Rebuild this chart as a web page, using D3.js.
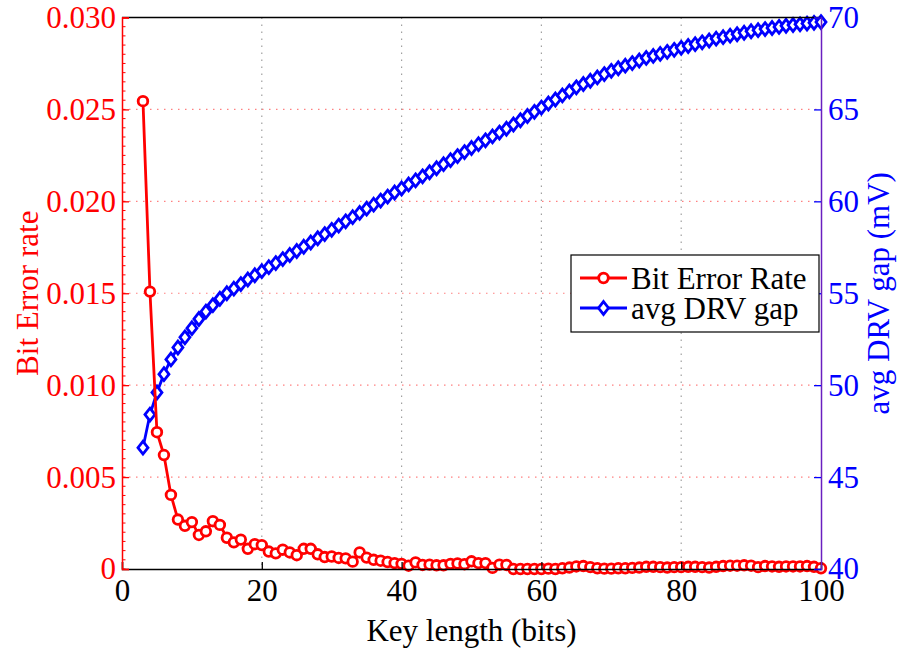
<!DOCTYPE html>
<html>
<head>
<meta charset="utf-8">
<script src="https://cdn.jsdelivr.net/npm/d3@7"></script>
<style>
	body { margin: 0; background: #fff; }
	svg text { font-family: "Liberation Serif", "Times New Roman", Times, "DejaVu Serif", serif; }
</style>
</head>
<body>
<script>
const keyLength = d3.range(3, 101);
const bitErrorRate = [
	0.02545, 0.01509, 0.00744, 0.00620, 0.00403, 0.00269, 0.00235, 0.00255, 0.00185, 0.00205,
	0.00260, 0.00240, 0.00170, 0.00145, 0.00160, 0.00110, 0.00135, 0.00130, 0.00095, 0.00085,
	0.00105, 0.00090, 0.00075, 0.00110, 0.00110, 0.00080, 0.00065, 0.00068, 0.00060, 0.00058,
	0.00040, 0.00090, 0.00062, 0.00050, 0.00045, 0.00038, 0.00032, 0.00028, 0.00018, 0.00036,
	0.00022, 0.00024, 0.00020, 0.00020, 0.00028, 0.00030, 0.00026, 0.00042, 0.00032, 0.00032,
	0.00006, 0.00024, 0.00022, 0.00000, 0.00000, 0.00000, 0.00000, 0.00000, 0.00002, 0.00000,
	0.00004, 0.00008, 0.00014, 0.00016, 0.00010, 0.00004, 0.00002, 0.00002, 0.00004, 0.00004,
	0.00006, 0.00008, 0.00012, 0.00012, 0.00010, 0.00008, 0.00010, 0.00010, 0.00012, 0.00012,
	0.00010, 0.00008, 0.00012, 0.00016, 0.00018, 0.00018, 0.00020, 0.00018, 0.00010, 0.00016,
	0.00014, 0.00012, 0.00014, 0.00014, 0.00014, 0.00016, 0.00012, 0.00004
];
const drvGap = [
	46.60, 48.40, 49.60, 50.60, 51.40, 52.05, 52.60, 53.10, 53.60, 54.00,
	54.35, 54.70, 55.00, 55.25, 55.50, 55.75, 55.98, 56.20, 56.42, 56.64,
	56.86, 57.08, 57.30, 57.53, 57.76, 57.99, 58.22, 58.45, 58.68, 58.91,
	59.14, 59.37, 59.60, 59.82, 60.04, 60.26, 60.48, 60.70, 60.92, 61.14,
	61.36, 61.58, 61.80, 62.02, 62.24, 62.46, 62.68, 62.90, 63.11, 63.32,
	63.53, 63.74, 63.95, 64.18, 64.41, 64.64, 64.87, 65.10, 65.32, 65.54,
	65.76, 65.98, 66.20, 66.38, 66.56, 66.74, 66.92, 67.10, 67.24, 67.38,
	67.52, 67.66, 67.80, 67.91, 68.02, 68.13, 68.24, 68.35, 68.45, 68.55,
	68.65, 68.75, 68.85, 68.93, 69.01, 69.09, 69.17, 69.25, 69.31, 69.37,
	69.43, 69.49, 69.55, 69.59, 69.63, 69.67, 69.71, 69.75
];
const xTicks = [0, 20, 40, 60, 80, 100];
const berTicks = [0, 0.005, 0.010, 0.015, 0.020, 0.025, 0.030];
const gapTicks = [40, 45, 50, 55, 60, 65, 70];
const seriesNames = ['Bit Error Rate', 'avg DRV gap'];

const FONT = '"Liberation Serif", "Times New Roman", Times, "DejaVu Serif", serif';

class DualAxisChart {
	constructor() {
		this._width = 898;
		this._height = 651;
		this._margins = {left: 122, right: 77, top: 17.5, bottom: 82};
		this._fontSize = 31;
		this._red = '#ff0000';
		this._blue = '#0000ff';
		this._scaleX = d3.scaleLinear().domain([0, 100]).range([0, this.quadrantWidth()]);
		this._scaleL = d3.scaleLinear().domain([0, 0.03]).range([this.quadrantHeight(), 0]);
		this._scaleR = d3.scaleLinear().domain([40, 70]).range([this.quadrantHeight(), 0]);
		this._svg = null;
		this._body = null;
	}
	render() {
		this._svg = d3.select('body')
			.append('svg')
			.attr('width', this._width)
			.attr('height', this._height)
			.attr('font-family', FONT);
		this._body = this._svg.append('g')
			.attr('transform', `translate(${this._margins.left},${this._margins.top})`);
		this.renderGrid();
		this.renderDrv();
		this.renderBer();
		this.renderAxes();
		this.renderLabels();
		this.renderLegend();
	}
	renderGrid() {
		let grid = this._body.append('g').attr('class', 'grid');
		grid.selectAll('line.vgrid')
			.data(xTicks.slice(1, -1))
			.enter()
			.append('line')
			.attr('x1', d => this._scaleX(d))
			.attr('x2', d => this._scaleX(d))
			.attr('y1', 0)
			.attr('y2', this.quadrantHeight())
			.attr('stroke', '#a0a0a0')
			.attr('stroke-width', 1.2)
			.attr('stroke-dasharray', '1.5,5.5');
		grid.selectAll('line.hgrid')
			.data(berTicks.slice(1, -1))
			.enter()
			.append('line')
			.attr('x1', 0)
			.attr('x2', this.quadrantWidth())
			.attr('y1', d => this._scaleL(d))
			.attr('y2', d => this._scaleL(d))
			.attr('stroke', '#ff8080')
			.attr('stroke-width', 1.2)
			.attr('stroke-dasharray', '1.5,5.5');
	}
	renderBer() {
		let line = d3.line()
			.x((d, i) => this._scaleX(keyLength[i]))
			.y(d => this._scaleL(d));
		let g = this._body.append('g').attr('class', 'ber');
		g.append('path')
			.attr('d', line(bitErrorRate))
			.attr('fill', 'none')
			.attr('stroke', this._red)
			.attr('stroke-width', 2.8);
		g.selectAll('circle')
			.data(bitErrorRate)
			.enter()
			.append('circle')
			.attr('cx', (d, i) => this._scaleX(keyLength[i]))
			.attr('cy', d => this._scaleL(d))
			.attr('r', 4.8)
			.attr('fill', '#fff')
			.attr('stroke', this._red)
			.attr('stroke-width', 2.8);
	}
	renderDrv() {
		let line = d3.line()
			.x((d, i) => this._scaleX(keyLength[i]))
			.y(d => this._scaleR(d));
		let g = this._body.append('g').attr('class', 'drv');
		g.append('path')
			.attr('d', line(drvGap))
			.attr('fill', 'none')
			.attr('stroke', this._blue)
			.attr('stroke-width', 2.8);
		g.selectAll('path.diamond')
			.data(drvGap)
			.enter()
			.append('path')
			.attr('class', 'diamond')
			.attr('transform', (d, i) => `translate(${this._scaleX(keyLength[i])},${this._scaleR(d)})`)
			.attr('d', this.diamond())
			.attr('fill', '#fff')
			.attr('stroke', this._blue)
			.attr('stroke-width', 2.8);
	}
	diamond() {
		return 'M0,-6.4L5,0L0,6.4L-5,0Z';
	}
	renderAxes() {
		let axes = this._body.append('g').attr('class', 'axes');
		let w = this.quadrantWidth();
		let h = this.quadrantHeight();

		axes.append('line')
			.attr('x1', 0).attr('x2', w).attr('y1', 0).attr('y2', 0)
			.attr('stroke', '#000').attr('stroke-width', 1.5);

		let xAxis = d3.axisBottom(this._scaleX).tickValues(xTicks).tickSize(-7).tickPadding(7);
		let gx = axes.append('g')
			.attr('transform', `translate(0,${h})`)
			.call(xAxis);
		this.styleAxis(gx, '#000');
		gx.selectAll('.tick text').attr('dy', '0.82em');

		// minor ticks on the left axis
		axes.selectAll('line.minor')
			.data(d3.range(0, 61).map(i => i * 0.0005))
			.enter()
			.append('line')
			.attr('x1', 0)
			.attr('x2', 3.5)
			.attr('y1', d => this._scaleL(d))
			.attr('y2', d => this._scaleL(d))
			.attr('stroke', this._red)
			.attr('stroke-width', 1);

		let lAxis = d3.axisLeft(this._scaleL)
			.tickValues(berTicks)
			.tickSize(-7)
			.tickPadding(6)
			.tickFormat(d => d === 0 ? '0' : d3.format('.3f')(d));
		let gl = axes.append('g').call(lAxis);
		this.styleAxis(gl, this._red);

		let rAxis = d3.axisRight(this._scaleR).tickValues(gapTicks).tickSize(-7).tickPadding(7);
		let gr = axes.append('g')
			.attr('transform', `translate(${w},0)`)
			.call(rAxis);
		this.styleAxis(gr, this._blue);
		gr.select('.domain').attr('stroke', '#6a1fc0');
	}
	styleAxis(g, color) {
		g.attr('font-family', FONT).attr('font-size', this._fontSize);
		g.select('.domain').attr('stroke', color).attr('stroke-width', 1.5);
		g.selectAll('.tick line').attr('stroke', color).attr('stroke-width', 1.3);
		g.selectAll('.tick text').attr('fill', color);
	}
	renderLabels() {
		this._svg.append('text')
			.attr('x', this._margins.left + this.quadrantWidth() / 2)
			.attr('y', 641)
			.attr('text-anchor', 'middle')
			.attr('fill', '#000')
			.attr('font-size', this._fontSize)
			.text('Key length (bits)');
		this._svg.append('text')
			.attr('transform', `translate(38,${this._margins.top + this.quadrantHeight() / 2}) rotate(-90)`)
			.attr('text-anchor', 'middle')
			.attr('fill', this._red)
			.attr('font-size', this._fontSize)
			.text('Bit Error rate');
		this._svg.append('text')
			.attr('transform', `translate(889,${this._margins.top + this.quadrantHeight() / 2}) rotate(-90)`)
			.attr('text-anchor', 'middle')
			.attr('fill', this._blue)
			.attr('font-size', this._fontSize)
			.text('avg DRV gap (mV)');
	}
	renderLegend() {
		let legend = this._svg.append('g')
			.attr('class', 'legend')
			.attr('transform', 'translate(571,255)');
		legend.append('rect')
			.attr('width', 248)
			.attr('height', 77)
			.attr('fill', '#fff')
			.attr('stroke', '#000')
			.attr('stroke-width', 1.2);
		let colors = [this._red, this._blue];
		let items = legend.selectAll('g.item')
			.data(seriesNames)
			.enter()
			.append('g')
			.attr('class', 'item')
			.attr('transform', (d, i) => `translate(0,${23 + i * 30})`);
		items.append('line')
			.attr('x1', 9)
			.attr('x2', 56)
			.attr('stroke', (d, i) => colors[i])
			.attr('stroke-width', 2.8);
		items.filter((d, i) => i === 0)
			.append('circle')
			.attr('cx', 32.5)
			.attr('r', 4.8)
			.attr('fill', '#fff')
			.attr('stroke', this._red)
			.attr('stroke-width', 2.8);
		items.filter((d, i) => i === 1)
			.append('path')
			.attr('transform', 'translate(32.5,0)')
			.attr('d', this.diamond())
			.attr('fill', '#fff')
			.attr('stroke', this._blue)
			.attr('stroke-width', 2.8);
		items.append('text')
			.attr('x', 60)
			.attr('dy', '0.35em')
			.attr('fill', '#000')
			.attr('font-size', this._fontSize)
			.text(d => d);
	}
	quadrantWidth() {
		return this._width - this._margins.left - this._margins.right;
	}
	quadrantHeight() {
		return this._height - this._margins.top - this._margins.bottom;
	}
}

new DualAxisChart().render();
</script>
</body>
</html>
